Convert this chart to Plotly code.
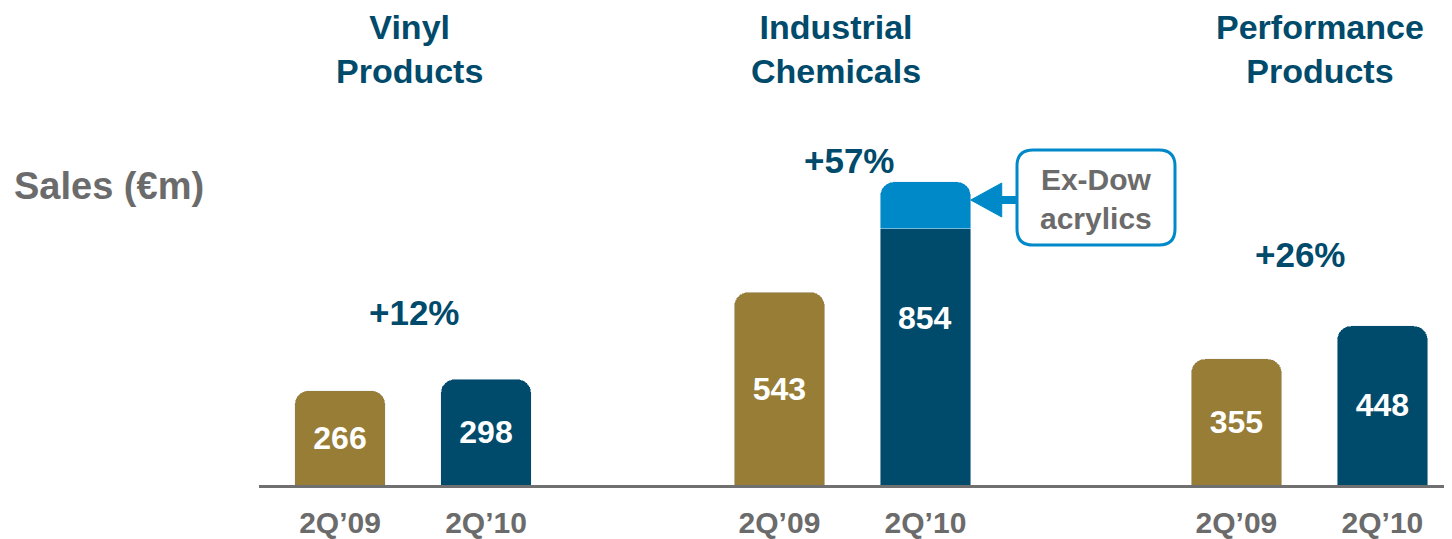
import plotly.graph_objects as go

# ---------------- data ----------------
segments = ["Vinyl<br>Products", "Industrial<br>Chemicals", "Performance<br>Products"]
periods = ["2Q’09", "2Q’10"]
sales_2q09 = [266, 543, 355]
sales_2q10 = [298, 854, 448]
exdow_acrylics_2q10 = [0, 132, 0]
growth = ["+12%", "+57%", "+26%"]
y_label = "Sales (€m)"
callout_text = "Ex-Dow<br>acrylics"

# ---------------- style / layout ----------------
GOLD = "#977D36"
DARK = "#004A6B"
LIGHT = "#0089C9"
GRAY = "#6B6B6B"
FONT = "Liberation Sans, Arial, sans-serif"

# page body has an 8px margin: figure occupies screen px 8..1452 x 8..539
OFF = 8
W, H = 1452 - OFF, 539 - OFF
REF_LEFT, REF_BASE = 259, 485          # plot left edge / baseline in screen px
ML = REF_LEFT - OFF
MB = H - (REF_BASE - OFF)
PW = W - ML
PH = H - MB
PXX = 146.0      # px per x unit
PXY = 0.355      # px per y unit
X0 = -81 / PXX
X1 = X0 + PW / PXX
Y1 = PH / PXY


def xd(rx):
    return X0 + (rx - REF_LEFT) / PXX


def yd(ry):
    return (REF_BASE - ry) / PXY


def xp(x):
    return REF_LEFT + (x - X0) * PXX


group_pos = [0.0, 3.01, 6.14]
bw = 0.62
x09 = [g for g in group_pos]
x10 = [g + 1 for g in group_pos]
base_2q10 = [t - e for t, e in zip(sales_2q10, exdow_acrylics_2q10)]

label_font = dict(color="white", size=32, family=FONT, weight="bold")

fig = go.Figure()
fig.add_trace(go.Bar(
    x=x09, y=sales_2q09, width=bw, marker_color=GOLD, name=periods[0],
    text=[str(v) for v in sales_2q09], textposition="inside",
    insidetextanchor="middle", textfont=label_font, hoverinfo="skip",
))
fig.add_trace(go.Bar(
    x=x10, y=base_2q10, width=bw, marker_color=DARK, name=periods[1],
    text=[str(t) if e == 0 else "" for t, e in zip(sales_2q10, exdow_acrylics_2q10)],
    textposition="inside", insidetextanchor="middle", textfont=label_font,
    hoverinfo="skip",
))
ex_idx = [i for i, e in enumerate(exdow_acrylics_2q10) if e > 0]
fig.add_trace(go.Bar(
    x=[x10[i] for i in ex_idx], y=[exdow_acrylics_2q10[i] for i in ex_idx],
    width=bw, marker_color=LIGHT, name="Ex-Dow acrylics",
    textposition="none", hoverinfo="skip",
))

annotations = []
# total label for stacked bar
for i in ex_idx:
    annotations.append(dict(
        x=x10[i], y=sales_2q10[i] * 0.55, xref="x", yref="y", text=str(sales_2q10[i]),
        showarrow=False, font=label_font, xanchor="center", yanchor="middle",
    ))

# segment titles
title_shift = [-4, -16, 11]
for i, s in enumerate(segments):
    annotations.append(dict(
        x=group_pos[i] + 0.5, y=yd(49), xref="x", yref="y", text=s, showarrow=False,
        xshift=title_shift[i],
        font=dict(color=DARK, size=34, family=FONT, weight="bold"),
        xanchor="center", yanchor="middle",
    ))

# growth labels
g_xshift = [1, -3, -9]
g_yshift = [67, 21, 71]
for i, g in enumerate(growth):
    annotations.append(dict(
        x=group_pos[i] + 0.5, y=max(sales_2q09[i], sales_2q10[i]), xref="x", yref="y",
        text=g, showarrow=False, xshift=g_xshift[i], yshift=g_yshift[i],
        font=dict(color=DARK, size=35, family=FONT, weight="bold"),
        xanchor="center", yanchor="middle",
    ))

# y label (paper coords, left of plot area)
annotations.append(dict(
    x=(12 - REF_LEFT) / PW, y=(REF_BASE - 186) / PH, xref="paper", yref="paper",
    text=y_label, showarrow=False,
    font=dict(color=GRAY, size=38, family=FONT, weight="bold"),
    xanchor="left", yanchor="middle",
))

# callout
bx0, by0, bx1, by1, r = 1017, 150, 1175, 245, 16
annotations.append(dict(
    x=xd((bx0 + bx1) / 2), y=yd((by0 + by1) / 2 + 1), xref="x", yref="y",
    text=callout_text, showarrow=False,
    font=dict(color=GRAY, size=30, family=FONT, weight="bold"),
    xanchor="center", yanchor="middle",
))


def P(px, py):
    return f"{xd(px):.5f},{yd(py):.3f}"


rr = (f"M {P(bx0 + r, by0)} L {P(bx1 - r, by0)} Q {P(bx1, by0)} {P(bx1, by0 + r)} "
      f"L {P(bx1, by1 - r)} Q {P(bx1, by1)} {P(bx1 - r, by1)} "
      f"L {P(bx0 + r, by1)} Q {P(bx0, by1)} {P(bx0, by1 - r)} "
      f"L {P(bx0, by0 + r)} Q {P(bx0, by0)} {P(bx0 + r, by0)} Z")

tip_x = xp(x10[1] + bw / 2)
tip_y = 200
tri = f"M {P(tip_x, tip_y)} L {P(tip_x + 31, tip_y - 17)} L {P(tip_x + 31, tip_y + 17)} Z"

shapes = [
    dict(type="path", path=rr, xref="x", yref="y", line=dict(color=LIGHT, width=3),
         fillcolor="white", layer="above"),
    dict(type="path", path=tri, xref="x", yref="y", line=dict(color=LIGHT, width=1),
         fillcolor=LIGHT, layer="above"),
    dict(type="line", x0=xd(tip_x + 28), x1=xd(bx0), y0=yd(tip_y), y1=yd(tip_y),
         xref="x", yref="y", line=dict(color=LIGHT, width=8), layer="above"),
]

fig.update_layout(
    width=W, height=H,
    margin=dict(l=ML, r=0, t=0, b=MB, autoexpand=False),
    paper_bgcolor="white", plot_bgcolor="white",
    barmode="stack", barcornerradius=14,
    showlegend=False,
    annotations=annotations, shapes=shapes,
    xaxis=dict(
        range=[X0, X1], tickvals=x09 + x10,
        ticktext=[periods[0]] * len(x09) + [periods[1]] * len(x10),
        tickfont=dict(color=GRAY, size=30, family=FONT, weight="bold"),
        showgrid=False, zeroline=False, showline=True, linecolor="#707070",
        linewidth=3, ticks="", ticklabelstandoff=9, fixedrange=True,
        automargin=False,
    ),
    yaxis=dict(range=[0, Y1], visible=False, showgrid=False, zeroline=False,
               fixedrange=True, automargin=False),
)

fig.write_html("out.html")
